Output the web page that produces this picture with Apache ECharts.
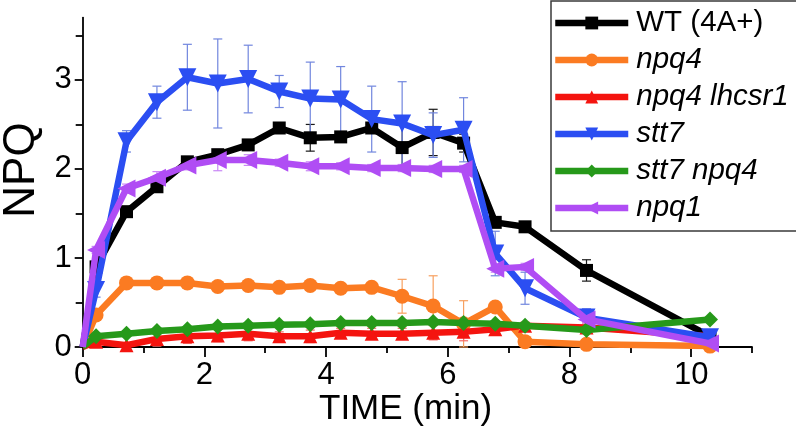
<!DOCTYPE html>
<html>
<head>
<meta charset="utf-8">
<script src="https://cdn.jsdelivr.net/npm/echarts@6/dist/echarts.min.js"></script>
<style>html,body{margin:0;padding:0;background:#fff}#c{width:796px;height:432px}</style>
</head>
<body>
<div id="c"></div>
<script>
// ---- data ----
const times = [0, 0.22, 0.72, 1.22, 1.72, 2.22, 2.72, 3.23, 3.74, 4.24, 4.75, 5.25, 5.76, 6.26, 6.78, 7.27, 8.28, 10.31];

const wt      = [0, 0.90, 1.52, 1.80, 2.08, 2.16, 2.27, 2.46, 2.35, 2.36, 2.46, 2.24, 2.41, 2.29, 1.40, 1.35, 0.86, 0.12];
const wtErr   = [0, 0.06, 0.04, 0.05, 0.05, 0.04, 0.05, 0.05, 0.15, 0.05, 0.05, 0.25, 0.26, 0.10, 0.05, 0.03, 0.12, 0.06];

const npq4    = [0, 0.36, 0.72, 0.72, 0.72, 0.68, 0.69, 0.67, 0.69, 0.66, 0.67, 0.57, 0.46, 0.26, 0.45, 0.06, 0.03, 0.01];
const npq4Err = [0, 0.04, 0.02, 0.02, 0.02, 0.02, 0.02, 0.02, 0.02, 0.02, 0.02, 0.19, 0.34, 0.26, 0.05, 0.02, 0.02, 0.01];

const lhcsr   = [0, 0.06, 0.02, 0.09, 0.12, 0.13, 0.15, 0.12, 0.12, 0.16, 0.15, 0.15, 0.16, 0.17, 0.20, 0.24, 0.22, 0.12];
const lhcsrErr= [0, 0.04, 0.03, 0.08, 0.08, 0.07, 0.08, 0.05, 0.07, 0.05, 0.06, 0.06, 0.08, 0.10, 0.06, 0.04, 0.05, 0.06];

const stt7    = [0, 0.64, 2.31, 2.75, 3.03, 2.96, 3.01, 2.87, 2.79, 2.78, 2.56, 2.51, 2.38, 2.44, 1.05, 0.66, 0.33, 0.11];
const stt7Err = [0, 0.08, 0.12, 0.18, 0.37, 0.50, 0.38, 0.18, 0.41, 0.37, 0.37, 0.47, 0.25, 0.36, 0.25, 0.18, 0.10, 0.05];

const stt7npq4    = [0, 0.12, 0.15, 0.18, 0.20, 0.23, 0.24, 0.25, 0.255, 0.27, 0.27, 0.27, 0.28, 0.27, 0.26, 0.24, 0.19, 0.31];
const stt7npq4Err = [0, 0.03, 0.03, 0.03, 0.03, 0.03, 0.03, 0.03, 0.03, 0.03, 0.03, 0.03, 0.03, 0.03, 0.03, 0.03, 0.10, 0.03];

const npq1    = [0, 1.09, 1.78, 1.90, 2.04, 2.10, 2.10, 2.07, 2.03, 2.03, 2.01, 2.01, 2.00, 2.00, 0.88, 0.90, 0.31, 0.04];
const npq1Err = [0, 0.04, 0.05, 0.07, 0.05, 0.12, 0.06, 0.04, 0.05, 0.04, 0.04, 0.04, 0.04, 0.04, 0.04, 0.04, 0.04, 0.02];

const xTickLabels = [0, 2, 4, 6, 8, 10];
const xMinorTicks = [1, 3, 5, 7, 9, 11];
const yTickLabels = [0, 1, 2, 3];
const yMinorTicks = [0.5, 1.5, 2.5, 3.5];

const seriesDefs = [
  {name: 'WT (4A+)',    vals: wt,       err: wtErr,       color: '#000000', errColor: '#1a1a1a', symbol: 'rect',     size: 13, rot: 0,   italic: false},
  {name: 'npq4',        vals: npq4,     err: npq4Err,     color: '#fb7b22', errColor: '#f7a060', symbol: 'circle',   size: 15, rot: 0,   italic: true},
  {name: 'npq4 lhcsr1', vals: lhcsr,    err: lhcsrErr,    color: '#f4140f', errColor: '#f56a66', symbol: 'triangle', size: 14, rot: 0,   italic: true},
  {name: 'stt7',        vals: stt7,     err: stt7Err,     color: '#2b4ef2', errColor: '#7186de', symbol: 'triangle', size: 18, rot: 180, italic: true},
  {name: 'stt7 npq4',   vals: stt7npq4, err: stt7npq4Err, color: '#26991a', errColor: '#5cb552', symbol: 'diamond',  size: 16, rot: 0,   italic: true},
  {name: 'npq1',        vals: npq1,     err: npq1Err,     color: '#b04df4', errColor: '#c987f6', symbol: 'triangle', size: 18, rot: 90,  italic: true}
];

const FONT = "'Liberation Sans', Arial, sans-serif";

function errRenderer(color) {
  return function (params, api) {
    const x = api.value(0), y = api.value(1), e = api.value(2);
    if (!e) return null;
    const t = api.coord([x, y + e]);
    const b = api.coord([x, y - e]);
    const cw = 4.5;
    const st = {stroke: color, lineWidth: 1.2};
    return {
      type: 'group',
      children: [
        {type: 'line', shape: {x1: t[0], y1: t[1], x2: b[0], y2: b[1]}, style: st},
        {type: 'line', shape: {x1: t[0] - cw, y1: t[1], x2: t[0] + cw, y2: t[1]}, style: st},
        {type: 'line', shape: {x1: b[0] - cw, y1: b[1], x2: b[0] + cw, y2: b[1]}, style: st}
      ]
    };
  };
}

const series = [];
seriesDefs.forEach(function (d) {
  series.push({
    type: 'custom',
    name: d.name + ' err',
    xAxisIndex: 0, yAxisIndex: 0,
    z: 1,
    renderItem: errRenderer(d.errColor),
    data: times.map(function (t, k) { return [t, d.vals[k], d.err[k]]; }),
    silent: true
  });
});
seriesDefs.forEach(function (d, i) {
  series.push({
    type: 'line',
    name: d.name,
    xAxisIndex: 0, yAxisIndex: 0,
    z: 2 + i,
    symbol: d.symbol,
    symbolSize: d.size,
    symbolRotate: d.rot,
    showAllSymbol: true,
    color: d.color,
    lineStyle: {width: 6.5, color: d.color},
    itemStyle: {color: d.color},
    animation: false,
    data: times.map(function (t, k) {
      return k === 0 ? {value: [t, d.vals[k]], symbolSize: 0} : [t, d.vals[k]];
    })
  });
});

const chart = echarts.init(document.getElementById('c'), null, {renderer: 'canvas'});
chart.setOption({
  animation: false,
  backgroundColor: '#ffffff',
  grid: {left: 82.7, right: 44, top: 17.6, bottom: 85, containLabel: false},
  xAxis: [
    {
      type: 'value', min: 0, max: 11, position: 'bottom',
      axisLine: {show: true, onZero: false, lineStyle: {color: '#000', width: 1.8}},
      axisTick: {show: true, customValues: xTickLabels, length: 10, lineStyle: {color: '#000', width: 1.8}},
      axisLabel: {show: true, customValues: xTickLabels, margin: 13, color: '#000', fontSize: 31, fontFamily: FONT},
      splitLine: {show: false}
    },
    {
      type: 'value', min: 0, max: 11, position: 'bottom',
      axisLine: {show: false},
      axisTick: {show: true, customValues: xMinorTicks, length: 6, lineStyle: {color: '#000', width: 1.8}},
      axisLabel: {show: false},
      splitLine: {show: false}
    }
  ],
  yAxis: [
    {
      type: 'value', min: 0, max: 3.7, position: 'left',
      axisLine: {show: true, onZero: false, lineStyle: {color: '#000', width: 1.8}},
      axisTick: {show: true, customValues: yTickLabels, length: 8, lineStyle: {color: '#000', width: 1.8}},
      axisLabel: {show: true, customValues: yTickLabels, margin: 11, color: '#000', fontSize: 31, fontFamily: FONT},
      splitLine: {show: false}
    },
    {
      type: 'value', min: 0, max: 3.7, position: 'left',
      axisLine: {show: false},
      axisTick: {show: true, customValues: yMinorTicks, length: 7, lineStyle: {color: '#000', width: 1.8}},
      axisLabel: {show: false},
      splitLine: {show: false}
    }
  ],
  legend: {
    orient: 'vertical',
    left: 552, top: 8,
    padding: 0,
    itemGap: 7,
    itemWidth: 73, itemHeight: 16,
    symbolRotate: 'inherit',
    lineStyle: {width: 6.5},
    textStyle: {fontSize: 29.5, fontFamily: FONT, color: '#000', fontStyle: 'italic', lineHeight: 30, padding: [0, 0, 0, 3]},
    data: seriesDefs.map(function (d) {
      return {name: d.name, textStyle: {fontStyle: d.italic ? 'italic' : 'normal'}};
    })
  },
  graphic: [
    {type: 'rect', x: 551, y: 1, silent: true, z: -1,
     shape: {x: 0, y: 0, width: 320, height: 230},
     style: {fill: '#fff', stroke: '#3a3a3a', lineWidth: 1.5}},
    {type: 'text', left: 319, top: 392, silent: true,
     style: {text: 'TIME (min)', fontSize: 35, fontFamily: FONT, fill: '#000'}},
    {type: 'text', x: 0, y: 170, rotation: Math.PI / 2, silent: true,
     style: {text: 'NPQ', fontSize: 44, fontFamily: FONT, fill: '#000', align: 'center', verticalAlign: 'top'}}
  ],
  series: series
});
</script>
</body>
</html>
